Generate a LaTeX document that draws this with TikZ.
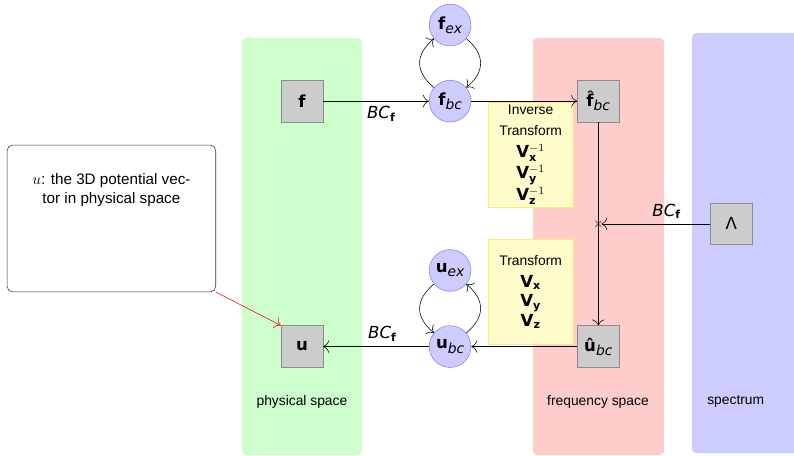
\documentclass[tikz,border=0pt]{standalone}
\usepackage{fontspec}
\setmainfont{Liberation Sans}
\setmathrm{DejaVu Sans}
\newfontfamily\dvfont{DejaVu Sans}
\newcommand{\lowidx}[1]{\raisebox{-0.45ex}{\normalsize\itshape #1}}
\usepackage{tikz}
\usetikzlibrary{arrows.meta,positioning,shapes.misc,backgrounds,calc}
\tikzset{
  gridbox/.style={rectangle, draw=black!45, fill=black!20, minimum size=10.6mm, inner sep=2pt, font=\dvfont\large},
  modebox/.style={circle, draw=blue!50, fill=blue!20, minimum size=10.6mm, inner sep=1pt, font=\dvfont\large},
  opbox/.style={rectangle, draw=yellow!70!orange!50, fill=yellow!20, align=center,
    minimum width=21.6mm, minimum height=26.7mm, inner sep=0pt, font=\large},
  note/.style={rectangle, rounded corners=4pt, draw=black!80, minimum width=53mm, minimum height=37.3mm},
  notetext/.style={align=center, inner sep=0pt, font=\fontsize{11}{13.5}\selectfont},
  junction/.style={cross out, draw=black!80, minimum size=1.4mm, inner sep=0pt},
  spacelbl/.style={align=center},
  bclbl/.style={font=\dvfont\large},
  band/.style={rounded corners=3pt},
  tr/.style={-{To[length=1.5mm]}, draw=black},
}

\begin{document}
\begin{tikzpicture}[node distance=8.6mm and 26.9mm]
  \useasboundingbox (0,0) rectangle (20.17,-11.58);
  \fill[band, green!20] (6.15,-0.97) rectangle (9.19,-11.56);
  \fill[band, red!20] (13.54,-0.97) rectangle (16.87,-11.56);
  \fill[band, blue!20] (17.58,-0.84) rectangle (20.5,-11.51);

  \node[gridbox] (f) at (7.67,-2.57) {\bfseries f};
  \node[modebox, right=of f] (fbc) {{\bfseries f}\lowidx{bc}};
  \node[modebox, above=of fbc] (fex) {{\bfseries f}\lowidx{ex}};
  \node[gridbox, right=of fbc] (fhat) {{\bfseries \^{f}}\lowidx{bc}};
  \node[gridbox, below=51.6mm of f] (u) {\bfseries u};
  \node[modebox, below=51.6mm of fbc] (ubc) {{\bfseries u}\lowidx{bc}};
  \node[modebox, above=of ubc] (uex) {{\bfseries u}\lowidx{ex}};
  \node[gridbox, below=51.6mm of fhat] (uhat) {{\bfseries û}\lowidx{bc}};
  \node[gridbox] (lam) at ($(fhat)!0.5!(uhat)+(3.38,0)$) {Λ};
  \node[junction] (cross) at (fhat |- lam) {};

  \node[opbox, anchor=north] (inv) at (13.48,-2.59)
    {\normalsize Inverse\\[1pt]\normalsize Transform\\[2pt]$\mathbf{V}_{\mathbf{x}}^{-1}$\\[1pt]$\mathbf{V}_{\mathbf{y}}^{-1}$\\[1pt]$\mathbf{V}_{\mathbf{z}}^{-1}$};
  \node[opbox, anchor=south] (fwd) at (13.48,-8.76)
    {\normalsize Transform\\[2pt]$\mathbf{V}_{\mathbf{x}}$\\$\mathbf{V}_{\mathbf{y}}$\\$\mathbf{V}_{\mathbf{z}}$};

  \node[note] (callout) at (2.83,-5.55) {};
  \node[notetext] (callouttext) at (2.83,-4.82) {$u$: the 3D potential vec-\\tor in physical space};

  \node[spacelbl] (phys) at (7.67,-10.21) {physical space};
  \node[spacelbl] (freq) at (15.19,-10.21) {frequency space};
  \node[spacelbl] (spec) at (18.69,-10.21) {spectrum};

  \draw[tr] (f) -- node[bclbl, below, pos=0.55]{\textit{BC}\textsubscript{\bfseries f}} (fbc);
  \draw[tr] (fbc) -- (fhat);
  \draw[tr] (fbc) to[bend left=50, looseness=1.3] (fex);
  \draw[tr] (fex) to[bend left=50, looseness=1.3] (fbc);
  \draw[tr] (fhat) -- (uhat);
  \draw[tr] (lam) -- node[bclbl, above, pos=0.4]{\textit{BC}\textsubscript{\bfseries f}} (cross);
  \draw[tr] (uhat) -- (ubc);
  \draw[tr] (ubc) to[bend right=50, looseness=1.3] (uex);
  \draw[tr] (uex) to[bend right=50, looseness=1.3] (ubc);
  \draw[tr] (ubc) -- node[bclbl, above, pos=0.44]{\textit{BC}\textsubscript{\bfseries f}} (u);
  \draw[tr, red] (callout.south east) -- (u.north west);
\end{tikzpicture}
\end{document}
